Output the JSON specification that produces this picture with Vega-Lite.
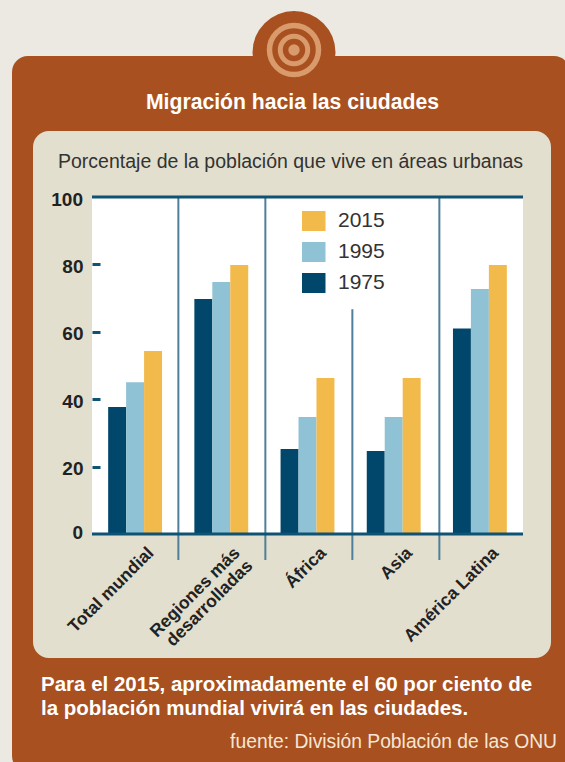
{
 "$schema":"https://vega.github.io/schema/vega-lite/v6.json",
 "width":431,"height":337,"autosize":"none",
 "padding":{"left":92,"top":197,"right":42,"bottom":228},
 "background":"#EBE9E1",
 "config":{"view":{"stroke":null},"font":"Liberation Sans"},
 "datasets":{
  "urbana":[
   {"region":"Total mundial","anio":"1975","pct":37.7},{"region":"Total mundial","anio":"1995","pct":45},{"region":"Total mundial","anio":"2015","pct":54.3},
   {"region":"Regiones más desarrolladas","anio":"1975","pct":69.7},{"region":"Regiones más desarrolladas","anio":"1995","pct":74.8},{"region":"Regiones más desarrolladas","anio":"2015","pct":79.8},
   {"region":"África","anio":"1975","pct":25.2},{"region":"África","anio":"1995","pct":34.7},{"region":"África","anio":"2015","pct":46.3},
   {"region":"Asia","anio":"1975","pct":24.6},{"region":"Asia","anio":"1995","pct":34.7},{"region":"Asia","anio":"2015","pct":46.3},
   {"region":"América Latina","anio":"1975","pct":61},{"region":"América Latina","anio":"1995","pct":72.7},{"region":"América Latina","anio":"2015","pct":79.8}
  ]
 },
 "layer":[
  {"data":{"values":[{}]},"mark":{"type":"point","shape":"circle","filled":true,"color":"#A8501F","opacity":1,"x":202,"y":-144.5,"size":6889},"encoding":{}},
  {"data":{"values":[{}]},"mark":{"type":"rect","x":-80,"x2":478,"y":-141,"y2":575,"color":"#A8501F","cornerRadius":16},"encoding":{}},
  {"data":{"values":[{}]},"mark":{"type":"point","shape":"circle","filled":false,"stroke":"#D99A6C","strokeWidth":5.5,"opacity":1,"x":202,"y":-147,"size":2401},"encoding":{}},
  {"data":{"values":[{}]},"mark":{"type":"point","shape":"circle","filled":false,"stroke":"#D99A6C","strokeWidth":5,"opacity":1,"x":202,"y":-147,"size":751},"encoding":{}},
  {"data":{"values":[{}]},"mark":{"type":"point","shape":"circle","filled":true,"color":"#D99A6C","opacity":1,"x":202,"y":-147,"size":130},"encoding":{}},
  {"data":{"values":[{}]},"mark":{"type":"rect","x":-59,"x2":459,"y":-66,"y2":461,"color":"#E2DFCE","cornerRadius":16},"encoding":{}},
  {"data":{"values":[{}]},"mark":{"type":"rect","x":0,"x2":431,"y":0,"y2":337,"color":"#FFFFFF"},"encoding":{}},
  {"data":{"name":"urbana"},
   "mark":{"type":"bar"},
   "encoding":{
    "x":{"field":"region","type":"nominal","sort":null,"scale":{"paddingInner":0.375,"paddingOuter":0.1875},
      "axis":{"title":null,"zindex":1,"domain":false,"ticks":false,"labelAngle":-45,"labelAlign":"right","labelBaseline":"middle","labelFontWeight":"bold","labelFontSize":17.5,"labelColor":"#222222","labelPadding":16,"labelOffset":16,"labelLimit":300,"labelLineHeight":18,
      "labelExpr":"datum.label == 'Regiones más desarrolladas' ? ['Regiones más','desarrolladas'] : datum.label"}},
    "xOffset":{"field":"anio","type":"nominal","sort":["1975","1995","2015"],"scale":{"padding":0,"paddingInner":0,"paddingOuter":0}},
    "y":{"field":"pct","type":"quantitative","scale":{"domain":[0,100],"nice":false},
      "axis":{"title":null,"zindex":1,"domain":false,"grid":false,"values":[20,40,60,80],"tickColor":"#0F5374","tickWidth":3,"tickSize":-8,"labelFontWeight":"bold","labelFontSize":19,"labelColor":"#222222","labelPadding":17,"labelOffset":2}},
    "color":{"field":"anio","type":"nominal","scale":{"domain":["2015","1995","1975"],"range":["#F2B94B","#8FC2D4","#00476B"]},
      "legend":{"title":null,"orient":"none","legendX":210,"legendY":14,"zindex":1,"symbolType":"M-1.3,-1H1.3V1H-1.3Z","symbolSize":400,"symbolStrokeWidth":0,"symbolOpacity":1,"rowPadding":10,"labelFontSize":21,"labelColor":"#333333","labelFont":"Liberation Sans","labelOffset":15,"clipHeight":20}}
   }},
  {"data":{"values":[{"region":"Regiones más desarrolladas","desde":100,"hasta":-7.7}]},"mark":{"type":"rule","color":"#4F7F9A","strokeWidth":2,"xOffset":-16},"encoding":{"x":{"field":"region","type":"nominal","sort":null,"bandPosition":0},"y":{"field":"desde","type":"quantitative"},"y2":{"field":"hasta"}}},
  {"data":{"values":[{"region":"África","desde":100,"hasta":-7.7}]},"mark":{"type":"rule","color":"#4F7F9A","strokeWidth":2,"xOffset":-15.2},"encoding":{"x":{"field":"region","type":"nominal","sort":null,"bandPosition":0},"y":{"field":"desde","type":"quantitative"},"y2":{"field":"hasta"}}},
  {"data":{"values":[{"region":"Asia","desde":66.7,"hasta":-7.7}]},"mark":{"type":"rule","color":"#4F7F9A","strokeWidth":2,"xOffset":-14.4},"encoding":{"x":{"field":"region","type":"nominal","sort":null,"bandPosition":0},"y":{"field":"desde","type":"quantitative"},"y2":{"field":"hasta"}}},
  {"data":{"values":[{"region":"América Latina","desde":100,"hasta":-7.7}]},"mark":{"type":"rule","color":"#4F7F9A","strokeWidth":2,"xOffset":-13.6},"encoding":{"x":{"field":"region","type":"nominal","sort":null,"bandPosition":0},"y":{"field":"desde","type":"quantitative"},"y2":{"field":"hasta"}}},
  {"data":{"values":[{"nivel":0},{"nivel":100}]},
   "mark":{"type":"rule","color":"#0F5374","strokeWidth":3,"x":0,"x2":431},
   "encoding":{"y":{"field":"nivel","type":"quantitative"}}},
  {"data":{"values":[{}]},"mark":{"type":"text","text":"0","x":-9,"y":336,"align":"right","baseline":"middle","fontWeight":"bold","fontSize":19,"color":"#222222"},"encoding":{}},
  {"data":{"values":[{}]},"mark":{"type":"text","text":"100","x":-9,"y":3,"align":"right","baseline":"middle","fontWeight":"bold","fontSize":19,"color":"#222222"},"encoding":{}},
  {"data":{"values":[{}]},"mark":{"type":"text","text":"Migración hacia las ciudades","x":200.5,"y":-88,"align":"center","baseline":"alphabetic","fontWeight":"bold","fontSize":21.2,"color":"#FFFFFF"},"encoding":{}},
  {"data":{"values":[{}]},"mark":{"type":"text","text":"Porcentaje de la población que vive en áreas urbanas","x":-34,"y":-29,"align":"left","baseline":"alphabetic","fontSize":19.5,"color":"#333333"},"encoding":{}},
  {"data":{"values":[{}]},"mark":{"type":"text","text":["Para el 2015, aproximadamente el 60 por ciento de","la población mundial vivirá en las ciudades."],"x":-51,"y":494,"align":"left","baseline":"alphabetic","fontWeight":"bold","fontSize":20.5,"lineHeight":24,"color":"#FFFFFF"},"encoding":{}},
  {"data":{"values":[{}]},"mark":{"type":"text","text":"fuente: División Población de las ONU","x":465,"y":551,"align":"right","baseline":"alphabetic","fontSize":19.3,"color":"#F5E6D6"},"encoding":{}}
 ]
}
